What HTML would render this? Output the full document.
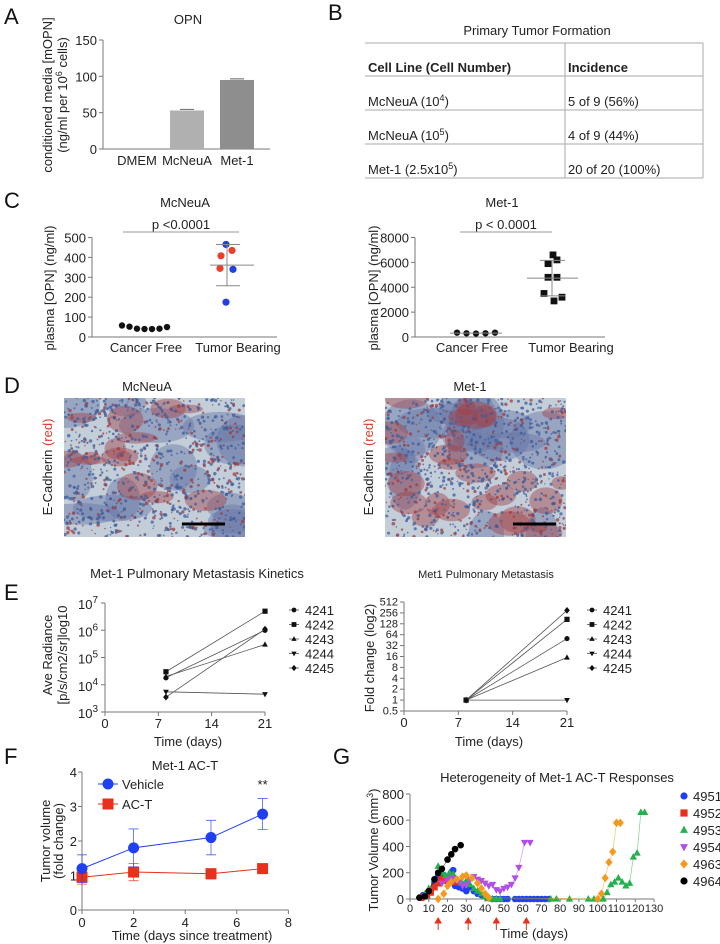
<!DOCTYPE html>
<html><head><meta charset="utf-8">
<style>
html,body{margin:0;padding:0;background:#fff;}
svg{display:block;font-family:"Liberation Sans",Arial,sans-serif;}
.t{font-size:13px;fill:#222;}
.s{font-size:11px;fill:#222;}
.L{font-size:22px;fill:#111;}
.ax{stroke:#777;stroke-width:1;fill:none;}
</style></head>
<body>
<svg id="fig" width="720" height="944" viewBox="0 0 720 944" xmlns="http://www.w3.org/2000/svg">
<defs>
<clipPath id="cp1"><rect x="64" y="398" width="181" height="139"/></clipPath>
<clipPath id="cp2"><rect x="385" y="398" width="181" height="139"/></clipPath>
</defs>
<text class="L" x="4" y="24">A</text>
<text class="L" x="328" y="20">B</text>
<text class="L" x="4" y="208">C</text>
<text class="L" x="4" y="393">D</text>
<text class="L" x="4" y="600">E</text>
<text class="L" x="4" y="764">F</text>
<text class="L" x="333" y="764">G</text>

<text class="t" x="188" y="24" text-anchor="middle">OPN</text>
<text class="t" transform="translate(52,95) rotate(-90)" text-anchor="middle">conditioned media [mOPN]</text>
<text class="t" transform="translate(67,95) rotate(-90)" text-anchor="middle">(ng/ml per 10<tspan dy="-5" font-size="9">6</tspan><tspan dy="5"> cells)</tspan></text>
<g id="gA"></g>

<g>
<text class="t" x="537" y="35" text-anchor="middle">Primary Tumor Formation</text>
<g stroke="#aaa" stroke-width="1">
<line x1="365" y1="43" x2="703" y2="43"/><line x1="365" y1="76" x2="703" y2="76"/><line x1="365" y1="110" x2="703" y2="110"/><line x1="365" y1="144" x2="703" y2="144"/><line x1="365" y1="178" x2="703" y2="178"/><line x1="565" y1="43" x2="565" y2="178"/><line x1="703" y1="43" x2="703" y2="178"/>
</g>
<text class="t" x="368" y="72" font-weight="bold">Cell Line (Cell Number)</text>
<text class="t" x="568" y="72" font-weight="bold">Incidence</text>
<text class="t" x="368" y="106">McNeuA (10<tspan dy="-5" font-size="9">4</tspan><tspan dy="5">)</tspan></text>
<text class="t" x="568" y="106">5 of 9 (56%)</text>
<text class="t" x="368" y="140">McNeuA (10<tspan dy="-5" font-size="9">5</tspan><tspan dy="5">)</tspan></text>
<text class="t" x="568" y="140">4 of 9 (44%)</text>
<text class="t" x="368" y="174">Met-1 (2.5x10<tspan dy="-5" font-size="9">5</tspan><tspan dy="5">)</tspan></text>
<text class="t" x="568" y="174">20 of 20 (100%)</text>
</g>

<text class="t" x="185" y="207" text-anchor="middle">McNeuA</text>
<text class="t" x="502" y="207" text-anchor="middle">Met-1</text>
<text class="t" transform="translate(54,288) rotate(-90)" text-anchor="middle">plasma [OPN] (ng/ml)</text>
<text class="t" transform="translate(378,288) rotate(-90)" text-anchor="middle">plasma [OPN] (ng/ml)</text>
<text class="t" x="181" y="229" text-anchor="middle">p &lt;0.0001</text>
<text class="t" x="506" y="229" text-anchor="middle">p &lt; 0.0001</text>
<g id="gC"></g>

<text class="t" x="147" y="391" text-anchor="middle">McNeuA</text>
<text class="t" x="470" y="391" text-anchor="middle">Met-1</text>
<text class="t" transform="translate(52,467) rotate(-90)" text-anchor="middle">E-Cadherin <tspan fill="#d8402a">(red)</tspan></text>
<text class="t" transform="translate(373,467) rotate(-90)" text-anchor="middle">E-Cadherin <tspan fill="#d8402a">(red)</tspan></text>
<g id="ph1" clip-path="url(#cp1)"><rect x="64" y="398" width="181" height="139" fill="#c3ced9"/></g>
<g id="ph2" clip-path="url(#cp2)"><rect x="385" y="398" width="181" height="139" fill="#c3ced9"/></g>
<line x1="182" y1="524" x2="225" y2="524" stroke="#000" stroke-width="3"/>
<line x1="513" y1="524" x2="556" y2="524" stroke="#000" stroke-width="3"/>

<text class="t" x="197" y="578" text-anchor="middle">Met-1 Pulmonary Metastasis Kinetics</text>
<text class="s" x="486" y="578" text-anchor="middle">Met1 Pulmonary Metastasis</text>
<text class="t" transform="translate(52,655) rotate(-90)" text-anchor="middle">Ave Radiance</text>
<text class="t" transform="translate(67,655) rotate(-90)" text-anchor="middle">[p/s/cm2/sr]log10</text>
<text class="t" transform="translate(374,658) rotate(-90)" text-anchor="middle">Fold change  (log2)</text>
<text class="t" x="188" y="746" text-anchor="middle">Time (days)</text>
<text class="t" x="489" y="746" text-anchor="middle">Time (days)</text>
<g id="gE"></g>

<text class="t" x="185" y="770" text-anchor="middle">Met-1 AC-T</text>
<text class="t" transform="translate(50,841) rotate(-90)" text-anchor="middle">Tumor volume</text>
<text class="t" transform="translate(63,841) rotate(-90)" text-anchor="middle">(fold change)</text>
<text class="t" x="192" y="940" text-anchor="middle">Time (days since treatment)</text>
<g id="gF"></g>

<text class="t" x="557" y="782" text-anchor="middle">Heterogeneity of Met-1 AC-T Responses</text>
<text class="t" transform="translate(378,850) rotate(-90)" text-anchor="middle">Tumor Volume (mm<tspan dy="-5" font-size="9">3</tspan><tspan dy="5">)</tspan></text>
<text class="t" x="534" y="938" text-anchor="middle">Time (days)</text>
<g id="gG"></g>
</svg>
<script>
// ---------- DATA ----------
const aCats = ["DMEM","McNeuA","Met-1"];
const aVals = [0,53,95];
const aErr = [0,1.5,1.5];
const aTicks = [0,50,100,150];

const c1Free = [58,52,42,40,40,42,50];
const c1Tumor = [465,435,408,345,340,175];
const c1TumorColor = ["blue","red","red","red","blue","blue"];
const c1Ticks = [0,100,200,300,400,500];
const c2Free = [350,300,280,300,350];
const c2Tumor = [6600,6200,5900,4800,4800,3500,3200,2900];
const c2Ticks = [0,2000,4000,6000,8000];

const eMice = ["4241","4242","4243","4244","4245"];
const eDays = [8,21];
const e1Start = [18000,30000,20000,5500,3500];
const e1End = [1000000,5000000,300000,4500,1100000];
const e2Start = [1,1,1,1,1];
const e2End = [50,170,15,1,300];
const e1Exps = [3,4,5,6,7];
const e1Ticks = [1000,10000,100000,1000000,10000000];
const e2Ticks = [0.5,1,2,4,8,16,32,64,128,256,512];
const eXTicks = [0,7,14,21];

const fDays = [0,2,5,7];
const fVehicle = [1.2,1.8,2.1,2.78];
const fVehicleErr = [0.4,0.55,0.5,0.45];
const fACT = [0.95,1.1,1.05,1.2];
const fACTErr = [0.2,0.25,0.15,0.12];
const fYTicks = [0,1,2,3,4];
const fXTicks = [0,2,4,6,8];

const gNames = ["4951","4952","4953","4954","4963","4964"];
const g4951d = [7,9,11,13,15,16,17,21,23,24,26,28,30,32,34,36,38,40,42,44,46,48,50,52,56,58,60,62,64,66,68,70,72,74];
const g4951v = [30,40,60,120,180,200,190,160,220,100,90,80,60,90,60,40,30,20,5,0,0,0,0,0,0,0,0,0,0,0,0,0,0,0];
const g4952d = [6,9,11,13,15,16,17,18,21,22,24];
const g4952v = [10,30,50,90,120,130,150,140,160,150,130];
const g4953d = [8,10,13,15,17,19,21,23,25,28,30,32,34,36,38,40,42,44,46,48,75,78,85,95,98,100,103,105,107,109,111,113,115,117,119,121,123,125];
const g4953v = [40,80,150,250,200,180,200,190,150,120,140,110,80,60,40,20,5,0,0,0,0,0,0,0,0,0,0,50,110,130,160,130,100,120,320,350,660,660];
const g4954d = [17,20,22,24,26,28,30,32,34,36,38,40,42,44,46,48,50,52,54,56,58,61,64];
const g4954v = [120,140,160,150,130,100,110,150,170,150,140,120,100,110,70,60,80,90,110,160,240,430,430];
const g4963d = [15,18,20,22,25,28,30,33,36,38,40,42,100,102,104,106,108,110,112];
const g4963v = [0,40,100,130,150,170,180,160,120,80,40,10,0,40,160,280,360,580,580];
const g4964d = [5,8,10,13,15,17,20,22,24,27];
const g4964v = [10,20,60,150,200,230,300,340,380,410];
const gXTicks = [0,10,20,30,40,50,60,70,80,90,100,110,120,130];
const gYTicks = [0,200,400,600,800];
const gArrowDays = [15,31,46,62];

// ---------- helpers ----------
const NS = "http://www.w3.org/2000/svg";
function mk(parent, tag, attrs, txt){
  const e = document.createElementNS(NS, tag);
  for (const k in attrs) e.setAttribute(k, attrs[k]);
  if (txt !== undefined) e.textContent = txt;
  parent.appendChild(e);
  return e;
}
function marker(parent, shape, x, y, r, color){
  let e;
  if (shape === "circle") e = mk(parent,"circle",{cx:x,cy:y,r:r,fill:color});
  else if (shape === "square") e = mk(parent,"rect",{x:x-r,y:y-r,width:2*r,height:2*r,fill:color});
  else if (shape === "tri") e = mk(parent,"polygon",{points:`${x},${y-r*1.2} ${x-r*1.1},${y+r*0.8} ${x+r*1.1},${y+r*0.8}`,fill:color});
  else if (shape === "itri") e = mk(parent,"polygon",{points:`${x},${y+r*1.2} ${x-r*1.1},${y-r*0.8} ${x+r*1.1},${y-r*0.8}`,fill:color});
  else e = mk(parent,"polygon",{points:`${x},${y-r*1.3} ${x+r*1.1},${y} ${x},${y+r*1.3} ${x-r*1.1},${y}`,fill:color});
  return e;
}

// ---------- Panel A ----------
const gA = document.getElementById("gA");
const aX0 = 103, aY0 = 149, aH = 109;
const yA = v => aY0 - v/150*aH;
const axA = mk(gA,"path",{d:`M${aX0},${yA(150)} V${aY0} H270`,class:"ax"});


aTicks.forEach(t=>{
  const tk = mk(gA,"line",{x1:aX0-4,x2:aX0,y1:yA(t),y2:yA(t),class:"ax"});
  
  
  const tl = mk(gA,"text",{x:aX0-6,y:yA(t)+5,"text-anchor":"end",class:"t"},String(t));
  
  
});
const aCenters = [137,187,237];
const aColors = ["#b0b0b0","#b0b0b0","#8e8e8e"];
aCats.forEach((c,i)=>{
  const b = mk(gA,"rect",{x:aCenters[i]-17,y:yA(aVals[i]),width:34,height:aY0-yA(aVals[i]),fill:aColors[i]});
  
  
  if (aVals[i]>0){
    const eb = mk(gA,"line",{x1:aCenters[i]-7,x2:aCenters[i]+7,y1:yA(aVals[i]+aErr[i]),y2:yA(aVals[i]+aErr[i]),stroke:"#666"});
    
    
  }
  const l = mk(gA,"text",{x:aCenters[i],y:165,"text-anchor":"middle",class:"t"},c);
  
  
});

// ---------- Panel C ----------
const gC = document.getElementById("gC");
const cY0 = 337, cH = 99.5;
function cAxis(x0, xEnd, ticks, max, prefix){
  const y = v => cY0 - v/max*cH;
  const ax = mk(gC,"path",{d:`M${x0},${y(max)} V${cY0} H${xEnd}`,class:"ax"});
  
  
  ticks.forEach(t=>{
    const tk = mk(gC,"line",{x1:x0-4,x2:x0,y1:y(t),y2:y(t),class:"ax"});
    
    
    const tl = mk(gC,"text",{x:x0-6,y:y(t)+5,"text-anchor":"end",class:"t","font-size":"14"},String(t));
    
    
  });
  return y;
}
function stats(arr){
  const m = arr.reduce((a,b)=>a+b,0)/arr.length;
  const sd = Math.sqrt(arr.reduce((a,b)=>a+(b-m)*(b-m),0)/(arr.length-1));
  return [m,sd];
}
function hline(g,x1,x2,y,name,col){
  const l = mk(g,"line",{x1:x1,x2:x2,y1:y,y2:y,stroke:col||"#888","stroke-width":1});
  
  
  return l;
}
const yC1 = cAxis(92, 277, c1Ticks, 500, "chart-c1");
hline(gC,123,239,232,"chart-c1-significance-line","#999");
c1Free.forEach((v,i)=>{
  const d = marker(gC,"circle",122+i*7.5,yC1(v),3.2,"#111");
  
  
});
const c1Xoff = [226,232,221,220,233,226];
c1Tumor.forEach((v,i)=>{
  const d = marker(gC,"circle",c1Xoff[i],yC1(v),3.6,c1TumorColor[i]==="blue"?"#2040e0":"#e8402a");
  
  
});
{
  const [m,sd] = stats(c1Tumor);
  hline(gC,210,254,yC1(m),"c1-mean-line");
  hline(gC,216,240,yC1(m+sd),"c1-sd-upper");
  hline(gC,216,240,yC1(m-sd),"c1-sd-lower");
  const v = mk(gC,"line",{x1:227,x2:227,y1:yC1(m+sd),y2:yC1(m-sd),stroke:"#888"});
  
  
}
["Cancer Free","Tumor Bearing"].forEach((c,i)=>{
  const l = mk(gC,"text",{x:[146,238][i],y:352,"text-anchor":"middle",class:"t","font-size":"14"},c);
  
  
});
const yC2 = cAxis(415, 605, c2Ticks, 8000, "chart-c2");
hline(gC,460,552,232,"chart-c2-significance-line","#999");
c2Free.forEach((v,i)=>{
  const d = marker(gC,"circle",457+i*9.5,yC2(v),3.2,"#111");
  
  
});
hline(gC,450,502,yC2(stats(c2Free)[0]),"c2-cancer-free-mean");
const c2Xoff = [553,557,548,548,557,544,562,554];
c2Tumor.forEach((v,i)=>{
  const d = marker(gC,"square",c2Xoff[i],yC2(v),3.4,"#111");
  
  
});
{
  const [m,sd] = stats(c2Tumor);
  hline(gC,527,578,yC2(m),"c2-mean-line");
  hline(gC,540,565,yC2(m+sd),"c2-sd-upper");
  hline(gC,540,565,yC2(m-sd),"c2-sd-lower");
  const v = mk(gC,"line",{x1:552,x2:552,y1:yC2(m+sd),y2:yC2(m-sd),stroke:"#888"});
  
  
}
["Cancer Free","Tumor Bearing"].forEach((c,i)=>{
  const l = mk(gC,"text",{x:[472,571][i],y:352,"text-anchor":"middle",class:"t","font-size":"14"},c);
  
  
});

// ---------- Panel D photos (texture only) ----------
function rng(seed){ let s=seed; return ()=>{ s=(s*16807)%2147483647; return s/2147483647; }; }
function photo(id, x0, y0, seed, redAmt){
  const g = document.getElementById(id);
  const r = rng(seed);
  for (let i=0;i<16;i++){
    const e = mk(g,"ellipse",{cx:x0+r()*181,cy:y0+r()*139,rx:14+r()*26,ry:10+r()*22,fill:"#6676a6",opacity:0.45});
    
    
  }
  for (let i=0;i<redAmt;i++){
    const e = mk(g,"ellipse",{cx:x0+r()*181,cy:y0+r()*139,rx:6+r()*16,ry:4+r()*10,fill:"#a04048",opacity:0.45});
    
    
  }
  for (let i=0;i<950;i++){
    const e = mk(g,"circle",{cx:x0+r()*181,cy:y0+r()*139,r:0.7+r()*1.1,fill:r()<0.72?"#3e5c9a":"#9c3b40",opacity:0.75});
    
    
  }
}
photo("ph1",64,398,12345,14);
photo("ph2",385,398,54321,26);

// ---------- Panel E ----------
const gE = document.getElementById("gE");
const eShapes = ["circle","square","tri","itri","diamond"];
function eChart(x0, x21, yTop, yBot, ticks, tf, startV, endV, legX, prefix){
  const xS = d => x0 + d*(x21-x0)/21;
  const lo = tf(ticks[0]), hi = tf(ticks[ticks.length-1]);
  const y = v => yBot - (tf(v)-lo)/(hi-lo)*(yBot-yTop);
  const ax = mk(gE,"path",{d:`M${x0},${yTop} V${yBot} H${x21}`,class:"ax"});
  
  
  ticks.forEach(t=>{
    const tk = mk(gE,"line",{x1:x0-4,x2:x0,y1:y(t),y2:y(t),class:"ax"});
    
    
  });
  eXTicks.forEach(t=>{
    const tk = mk(gE,"line",{x1:xS(t),x2:xS(t),y1:yBot,y2:yBot+4,class:"ax"});
    
    
    const tl = mk(gE,"text",{x:xS(t),y:yBot+16,"text-anchor":"middle",class:"t","font-size":"14"},String(t));
    
    
  });
  eMice.forEach((m,i)=>{
    const l = mk(gE,"line",{x1:xS(eDays[0]),y1:y(startV[i]),x2:xS(eDays[1]),y2:y(endV[i]),stroke:"#555","stroke-width":0.8});
    
    
    const p1 = marker(gE,eShapes[i],xS(eDays[0]),y(startV[i]),2.6,"#111");
    
    
    const p2 = marker(gE,eShapes[i],xS(eDays[1]),y(endV[i]),2.6,"#111");
    
    
    const ly = 610 + i*14.5;
    const lm = mk(gE,"line",{x1:legX-5,x2:legX+5,y1:ly,y2:ly,stroke:"#555","stroke-width":0.8});
    
    
    const mm = marker(gE,eShapes[i],legX,ly,2.4,"#111");
    
    
    const lt = mk(gE,"text",{x:legX+11,y:ly+5,class:"t","font-size":"15"},m);
    
    
  });
  return y;
}
const yE1 = eChart(105,265,603,712,e1Ticks,v=>Math.log10(v),e1Start,e1End,294,"chart-e1");
e1Ticks.forEach((t,i)=>{
  const tl = mk(gE,"text",{x:98,y:yE1(t)+6,"text-anchor":"end",class:"t","font-size":"15"});
  
  
  tl.appendChild(document.createTextNode("10"));
  mk(tl,"tspan",{dy:-6,"font-size":"10"},String(e1Exps[i]));
});
const yE2 = eChart(404,567,602,711,e2Ticks,v=>Math.log2(v),e2Start,e2End,592,"chart-e2");
e2Ticks.forEach(t=>{
  const tl = mk(gE,"text",{x:398,y:yE2(t)+3.5,"text-anchor":"end",class:"s","font-size":"9.5"},String(t));
  
  
});

// ---------- Panel F ----------
const gF = document.getElementById("gF");
const fX0 = 82, fY0 = 910;
const xF = d => fX0 + d*25.8;
const yF = v => fY0 - v*34.5;
const axF = mk(gF,"path",{d:`M${fX0},${yF(4)} V${fY0} H${xF(8)}`,class:"ax"});


fYTicks.forEach(t=>{
  const tk = mk(gF,"line",{x1:fX0-4,x2:fX0,y1:yF(t),y2:yF(t),class:"ax"});
  
  
  const tl = mk(gF,"text",{x:fX0-5,y:yF(t)+5,"text-anchor":"end",class:"t","font-size":"15"},String(t));
  
  
});
fXTicks.forEach(t=>{
  const tk = mk(gF,"line",{x1:xF(t),x2:xF(t),y1:fY0,y2:fY0+4,class:"ax"});
  
  
  const tl = mk(gF,"text",{x:xF(t),y:fY0+17,"text-anchor":"middle",class:"t","font-size":"15"},String(t));
  
  
});
function fSeries(vals, errs, color, shape, name){
  const pl = mk(gF,"polyline",{points:fDays.map((d,i)=>xF(d)+","+yF(vals[i])).join(" "),fill:"none",stroke:color,"stroke-width":1});
  
  
  fDays.forEach((d,i)=>{
    const x = xF(d);
    const eb = mk(gF,"path",{d:`M${x},${yF(vals[i]+errs[i])} V${yF(vals[i]-errs[i])} M${x-5},${yF(vals[i]+errs[i])} H${x+5} M${x-5},${yF(vals[i]-errs[i])} H${x+5}`,stroke:color,fill:"none","stroke-width":0.8,opacity:0.8});
    
    
    const m = marker(gF,shape,x,yF(vals[i]),5.5,color);
    
    
  });
}
fSeries(fACT,fACTErr,"#e8301c","square","act");
fSeries(fVehicle,fVehicleErr,"#1f3ff0","circle","vehicle");
[["Vehicle","#1f3ff0","circle",784],["AC-T","#e8301c","square",804]].forEach(([n,c,s,y])=>{
  const l = mk(gF,"line",{x1:98,x2:118,y1:y,y2:y,stroke:c});
  
  
  const m = marker(gF,s,108,y,5.5,c);
  
  
  const t = mk(gF,"text",{x:122,y:y+5,class:"t","font-size":"15"},n);
  
  
});
const star = mk(gF,"text",{x:xF(7),y:789,"text-anchor":"middle",class:"t","font-size":"12"},"**");



// ---------- Panel G ----------
const gG = document.getElementById("gG");
const xG = d => 410 + d*1.877;
const yG = v => 899 - v*0.1313;
const axG = mk(gG,"path",{d:`M410,${yG(800)} V899 H${xG(130)}`,class:"ax"});


gYTicks.forEach(t=>{
  const tk = mk(gG,"line",{x1:406,x2:410,y1:yG(t),y2:yG(t),class:"ax"});
  
  
  const tl = mk(gG,"text",{x:404,y:yG(t)+5,"text-anchor":"end",class:"t","font-size":"14"},String(t));
  
  
});
gXTicks.forEach(t=>{
  const tk = mk(gG,"line",{x1:xG(t),x2:xG(t),y1:899,y2:902,class:"ax"});
  
  
  const tl = mk(gG,"text",{x:xG(t),y:912,"text-anchor":"middle",class:"s","font-size":"10"},String(t));
  
  
});
gArrowDays.forEach(d=>{
  const a = mk(gG,"path",{d:`M${xG(d)},930 V921 M${xG(d)-3},923 L${xG(d)},918 L${xG(d)+3},923 Z`,stroke:"#e8301c",fill:"#e8301c","stroke-width":1});
  
  
});
const gSeries = [
  [g4951d,g4951v,"#1f3ff0","circle"],
  [g4952d,g4952v,"#e8301c","square"],
  [g4953d,g4953v,"#22b14c","tri"],
  [g4954d,g4954v,"#b14ee8","itri"],
  [g4963d,g4963v,"#f39a1e","diamond"],
  [g4964d,g4964v,"#000000","circle"]
];
gSeries.forEach((s,k)=>{
  const [ds,vs,col,sh] = s;
  const pl = mk(gG,"polyline",{points:ds.map((d,i)=>xG(d)+","+yG(vs[i])).join(" "),fill:"none",stroke:col,"stroke-width":0.7,opacity:0.6});
  
  
  ds.forEach((d,i)=>{
    const m = marker(gG,sh,xG(d),yG(vs[i]),3.3,col);
    
    
  });
  const ly = 796 + k*17;
  const lm = marker(gG,sh,684,ly,3.6,col);
  
  
  const lt = mk(gG,"text",{x:693,y:ly+5,class:"t","font-size":"14"},gNames[k]);
  
  
});
</script>
</body></html>
